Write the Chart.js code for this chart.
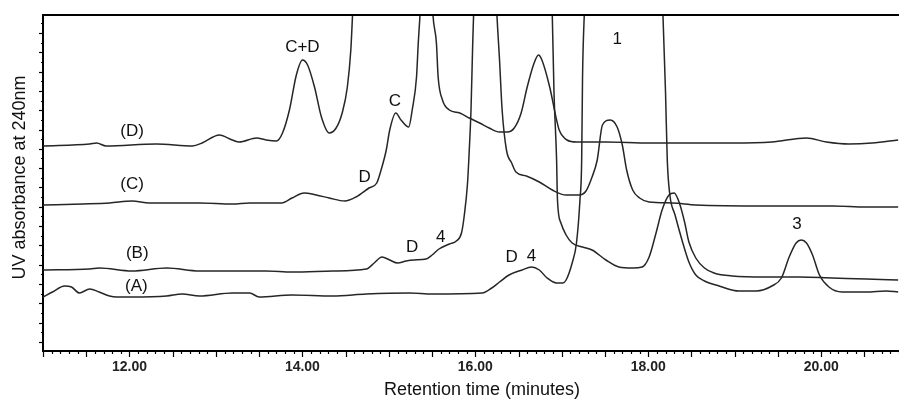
<!DOCTYPE html>
<html><head><meta charset="utf-8">
<script src="https://cdn.jsdelivr.net/npm/chart.js@4/dist/chart.umd.min.js"></script>
<style>html,body{margin:0;padding:0;background:#fff;}</style>
</head><body>
<canvas id="c" width="899" height="399"></canvas>
<script>
// Retention time (minutes) and UV absorbance (arbitrary units)
const timeD = [11.00, 11.54, 11.62, 11.73, 12.31, 12.73, 12.84, 13.04, 13.19, 13.27, 13.47, 13.58, 13.70, 13.77, 13.85, 13.93, 14.00, 14.06, 14.14, 14.22, 14.31, 14.39, 14.46, 14.52, 14.56, 14.58, 15.05, 15.51, 15.55, 15.57, 15.62, 15.70, 15.82, 15.93, 16.05, 16.16, 16.28, 16.37, 16.45, 16.53, 16.60, 16.68, 16.73, 16.77, 16.86, 16.94, 16.97, 17.06, 17.17, 17.51, 18.01, 18.97, 19.43, 19.83, 20.06, 20.32, 20.59, 20.89];
const absD = [102.5, 103.5, 104, 102.5, 103.5, 102.5, 104, 108, 105.5, 104.5, 106.5, 105.5, 105, 109, 120.5, 138, 145.5, 143, 132, 117, 109, 111.5, 119, 132, 150.5, 168, 600, 168, 154, 137, 125.5, 120.5, 119, 116.5, 114, 111.5, 109.5, 109.5, 111.5, 119, 132, 144, 148, 145.5, 132, 115.5, 110.5, 105.5, 104.5, 104.5, 104, 104, 104.5, 106.5, 104.5, 103.5, 104, 105.5];

const timeC = [11.00, 11.46, 11.77, 12.03, 12.23, 12.58, 12.81, 13.19, 13.39, 13.76, 13.88, 14.02, 14.16, 14.31, 14.49, 14.62, 14.77, 14.86, 14.91, 14.97, 15.01, 15.08, 15.14, 15.23, 15.27, 15.32, 15.34, 15.36, 15.82, 16.25, 16.28, 16.31, 16.36, 16.42, 16.47, 16.59, 16.74, 16.89, 17.05, 17.20, 17.28, 17.35, 17.41, 17.47, 17.56, 17.64, 17.70, 17.75, 17.82, 17.90, 18.01, 18.28, 18.55, 19.36, 20.13, 20.52, 20.89];
const absC = [73, 73.5, 74, 75, 74, 74, 74, 73.5, 74, 74, 76.5, 79, 78, 76.5, 75, 77, 81.5, 84, 90.5, 100.5, 110.5, 119, 115.5, 112, 120.5, 137, 154, 168, 600, 168, 145.5, 120.5, 100.5, 94, 89.5, 87.5, 84.5, 80.5, 78, 78, 80, 87, 95.5, 113, 115.5, 112, 103, 90.5, 80.5, 76.5, 74.5, 74, 73, 72.5, 72.5, 72, 72];

const timeB = [11.00, 11.54, 11.65, 12.03, 12.43, 12.81, 13.19, 13.58, 13.88, 14.35, 14.74, 14.83, 14.92, 15.01, 15.10, 15.20, 15.29, 15.43, 15.50, 15.58, 15.70, 15.78, 15.84, 15.87, 15.91, 15.93, 15.95, 15.97, 15.98, 16.43, 16.89, 16.91, 16.94, 16.95, 16.99, 17.05, 17.12, 17.24, 17.35, 17.51, 17.66, 17.82, 17.93, 18.01, 18.09, 18.16, 18.24, 18.30, 18.36, 18.42, 18.47, 18.55, 18.65, 18.76, 18.97, 19.36, 19.75, 20.13, 20.52, 20.89];
const absB = [40.5, 41, 41.5, 40, 41.5, 40, 40, 40, 39.5, 40, 41, 44, 47, 45.5, 44, 45, 45.5, 46, 48, 51, 53.5, 55, 59, 67, 84, 100.5, 120.5, 154, 168, 600, 168, 129, 95.5, 75.5, 64, 58, 54, 52, 50.5, 45.5, 42, 41.5, 42, 47, 59, 70.5, 78, 79, 74, 64.5, 54.5, 46.5, 41.5, 39, 37.5, 37, 37, 36.5, 36, 35.5];

const timeA = [11.00, 11.11, 11.25, 11.33, 11.42, 11.54, 11.65, 11.77, 11.85, 12.03, 12.43, 12.61, 12.81, 13.19, 13.39, 13.50, 13.88, 14.35, 14.74, 15.24, 15.50, 16.08, 16.19, 16.28, 16.39, 16.54, 16.65, 16.74, 16.83, 16.94, 17.01, 17.05, 17.12, 17.17, 17.21, 17.23, 17.24, 17.26, 17.72, 18.17, 18.20, 18.22, 18.25, 18.31, 18.39, 18.47, 18.55, 18.65, 18.82, 19.05, 19.25, 19.43, 19.54, 19.63, 19.71, 19.77, 19.83, 19.90, 19.98, 20.09, 20.24, 20.52, 20.75, 20.89];
const absA = [27, 29.5, 32.5, 32, 29, 31, 29.5, 27.5, 27, 27, 27.5, 28.5, 27.5, 29, 29, 27, 28, 27.5, 28.5, 29, 28.5, 29, 31.5, 34.5, 38, 40.5, 42, 40.5, 36.5, 34, 34, 35.5, 44, 54, 75.5, 95.5, 137, 168, 600, 168, 129, 95.5, 78, 68, 55.5, 44.5, 38, 35, 32.5, 30, 30, 32.5, 36.5, 47, 54, 55.5, 54, 48, 38, 32, 29.5, 29.5, 30, 29.5];

// x-axis labelled ticks (minutes)
const xTickLabels = [12, 14, 16, 18, 20];

// peak / trace annotations: text, retention time, absorbance level
const labelText = ['(D)', '(C)', '(B)', '(A)', 'C+D', 'C', 'D', 'D', '4', 'D', '4', '1', '3'];
const labelTime = [12.03, 12.03, 12.09, 12.08, 14.00, 15.07, 14.72, 15.27, 15.60, 16.42, 16.65, 17.64, 19.72];
const labelAbs  = [110, 83.5, 49, 32.5, 152, 125, 87, 52, 57, 47, 47.5, 156, 63.5];

const FONT = '"Liberation Sans", Arial, Helvetica, sans-serif';
const LINE = '#262626';

function series(t, v) { return t.map((x, i) => ({ x: x, y: v[i] })); }

const decor = {
  id: 'decor',
  afterDraw(chart) {
    const { ctx, chartArea: a, scales: { x, y } } = chart;
    ctx.save();
    ctx.strokeStyle = '#000';
    // top frame line
    ctx.lineWidth = 2;
    ctx.beginPath(); ctx.moveTo(a.left - 1, a.top); ctx.lineTo(a.right, a.top); ctx.stroke();
    // x minor/major tick marks
    ctx.lineWidth = 1.2;
    for (let k = Math.ceil(x.min * 10); k <= Math.floor(x.max * 10); k++) {
      const px = Math.round(x.getPixelForValue(k / 10)) + 0.5;
      const len = (k % 5 === 0) ? 6 : 3;
      ctx.beginPath(); ctx.moveTo(px, a.bottom); ctx.lineTo(px, a.bottom + len); ctx.stroke();
    }
    // y tick marks
    for (let k = 0; ; k++) {
      const v = 4.6 + 4.825 * k;
      if (v > y.max) break;
      const py = Math.round(y.getPixelForValue(v)) + 0.5;
      const len = (k % 2 === 0) ? 4 : 2;
      ctx.beginPath(); ctx.moveTo(a.left, py); ctx.lineTo(a.left - len, py); ctx.stroke();
    }
    // annotations
    ctx.fillStyle = '#111';
    ctx.font = '17px ' + FONT;
    ctx.textAlign = 'center';
    ctx.textBaseline = 'middle';
    labelText.forEach((s, i) => {
      ctx.fillText(s, x.getPixelForValue(labelTime[i]), y.getPixelForValue(labelAbs[i]));
    });
    // axis titles
    ctx.font = '18px ' + FONT;
    ctx.textBaseline = 'alphabetic';
    ctx.fillText('Retention time (minutes)', (a.left + a.right) / 2 + 11, a.bottom + 44);
    ctx.translate(a.left - 18, (a.top + a.bottom) / 2 - 5.5);
    ctx.rotate(-Math.PI / 2);
    ctx.fillText('UV absorbance at 240nm', 0, 0);
    ctx.restore();
  }
};

const ds = (t, v) => ({
  data: series(t, v),
  borderColor: LINE,
  borderWidth: 1.5,
  pointRadius: 0,
  cubicInterpolationMode: 'monotone',
  fill: false
});

new Chart(document.getElementById('c'), {
  type: 'line',
  data: { datasets: [ds(timeD, absD), ds(timeC, absC), ds(timeB, absB), ds(timeA, absA)] },
  options: {
    responsive: false,
    animation: false,
    devicePixelRatio: 1,
    layout: { padding: { top: 15, right: 0, left: 0, bottom: 0 } },
    plugins: { legend: { display: false }, tooltip: { enabled: false } },
    scales: {
      x: {
        type: 'linear', min: 11.0, max: 20.9,
        afterBuildTicks: (s) => { s.ticks = xTickLabels.map(v => ({ value: v })); },
        afterFit: (s) => { s.height = 48; },
        grid: { display: false, drawTicks: false },
        border: { display: true, color: '#000', width: 2 },
        ticks: { padding: 8, color: '#222', font: { family: FONT, size: 14, weight: 'bold' },
                 maxRotation: 0, autoSkip: false, callback: (v) => Number(v).toFixed(2) }
      },
      y: {
        type: 'linear', min: 0, max: 168,
        afterFit: (s) => { s.width = 43; },
        grid: { display: false, drawTicks: false },
        border: { display: true, color: '#000', width: 2 },
        ticks: { display: false }
      }
    }
  },
  plugins: [decor]
});
</script>
</body></html>
